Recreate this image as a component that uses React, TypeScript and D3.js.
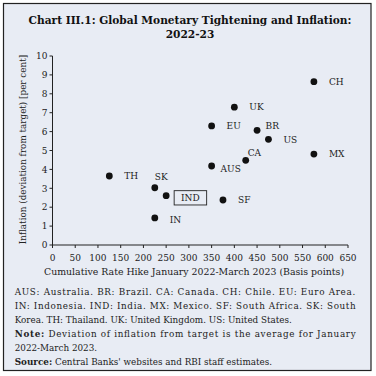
import React from "react";
import * as d3 from "d3";

const countries = ["CH", "UK", "EU", "BR", "US", "CA", "MX", "AUS", "TH", "SK", "IND", "IN", "SF"];
const rateHike = [575, 400, 350, 450, 475, 425, 575, 350, 125, 225, 250, 225, 375];
const inflationDev = [8.64, 7.29, 6.3, 6.07, 5.59, 4.48, 4.81, 4.18, 3.65, 3.03, 2.61, 1.43, 2.38];
const xTicks = [0, 50, 100, 150, 200, 250, 300, 350, 400, 450, 500, 550, 600, 650];
const yTicks = [0, 1, 2, 3, 4, 5, 6, 7, 8, 9, 10];
// label offsets (dx, dy) relative to the dot
const labelDx = [15, 15, 15, 8.5, 15, 2, 15, 9, 15, 0, 15, 15, 15];
const labelDy = [0, 0, 0, -4, 0, -8, 0, 3, 0, -11, 2, 2, 0];

const FONT = "'DejaVu Serif', serif";

export default function App() {
  const x = d3.scaleLinear().domain([0, 650]).range([52.5, 348]);
  const y = d3.scaleLinear().domain([0, 10]).range([245, 56]);
  return (
    <svg width={376} height={376} style={{ position: "absolute", left: 0, top: 0 }} fontFamily={FONT}>
      <rect x={0} y={0} width={376} height={376} fill="#ffffff" />
      <rect x={3.5} y={3.5} width={367.5} height={367} fill="#e8ecf4" stroke="#222" strokeWidth={1.2} />
      <text x={190} y={24} textAnchor="middle" fontSize={10.6} fontWeight="bold" fill="#111">
        Chart III.1: Global Monetary Tightening and Inflation:
      </text>
      <text x={190} y={37.5} textAnchor="middle" fontSize={10.6} fontWeight="bold" fill="#111">
        2022-23
      </text>
      {/* axes */}
      <line x1={x(0)} x2={x(0)} y1={y(10)} y2={y(0)} stroke="#222" strokeWidth={1} />
      <line x1={x(0)} x2={x(650)} y1={y(0)} y2={y(0)} stroke="#222" strokeWidth={1} />
      {yTicks.map((t) => (
        <g key={"y" + t}>
          <line x1={x(0) - 3} x2={x(0)} y1={y(t)} y2={y(t)} stroke="#222" />
          <text x={x(0) - 5} y={y(t) + 3.2} textAnchor="end" fontSize={9} fill="#222">{t}</text>
        </g>
      ))}
      {xTicks.map((t) => (
        <g key={"x" + t}>
          <line x1={x(t)} x2={x(t)} y1={y(0)} y2={y(0) + 3} stroke="#222" />
          <text x={x(t)} y={y(0) + 15.5} textAnchor="middle" fontSize={9} fill="#222">{t}</text>
        </g>
      ))}
      <text transform={`translate(26,${(y(0) + y(10)) / 2 - 1}) rotate(-90)`} textAnchor="middle" fontSize={8.8} fill="#222">
        Inflation (deviation from target) [per cent]
      </text>
      <text x={194} y={275} textAnchor="middle" fontSize={9.4} fill="#222">
        Cumulative Rate Hike January 2022-March 2023 (Basis points)
      </text>
      {/* points */}
      {countries.map((c, i) => (
        <g key={c}>
          <circle cx={x(rateHike[i])} cy={y(inflationDev[i])} r={3.4} fill="#111" />
          {c === "IND" ? (
            <g>
              <rect x={x(rateHike[i]) + 8} y={y(inflationDev[i]) - 5} width={32.5} height={14.3} fill="none" stroke="#222" strokeWidth={0.9} />
              <text x={x(rateHike[i]) + 24.2} y={y(inflationDev[i]) + 5.4} textAnchor="middle" fontSize={9} fill="#222">{c}</text>
            </g>
          ) : (
            <text x={x(rateHike[i]) + labelDx[i]} y={y(inflationDev[i]) + labelDy[i] + 3.2} fontSize={9} fill="#222">{c}</text>
          )}
        </g>
      ))}
      {/* footnotes */}
      <text x={14.7} y={295.2} fontSize={8.8} fill="#222" textLength={340.5} lengthAdjust="spacing">
        AUS: Australia. BR: Brazil. CA: Canada. CH: Chile. EU: Euro Area.
      </text>
      <text x={14.7} y={309.2} fontSize={8.8} fill="#222" textLength={341} lengthAdjust="spacing">
        IN: Indonesia.  IND: India. MX: Mexico. SF: South Africa. SK: South
      </text>
      <text x={14.7} y={323.2} fontSize={8.8} fill="#222">
        Korea. TH: Thailand. UK: United Kingdom. US: United States.
      </text>
      <text x={14.7} y={337.2} fontSize={8.8} fill="#222" textLength={341} lengthAdjust="spacing">
        <tspan fontWeight="bold">Note:</tspan> Deviation of inflation from target is the average for January
      </text>
      <text x={14.7} y={351.2} fontSize={8.8} fill="#222">
        2022-March 2023.
      </text>
      <text x={14.7} y={365.2} fontSize={8.8} fill="#222">
        <tspan fontWeight="bold">Source:</tspan> Central Banks' websites and RBI staff estimates.
      </text>
    </svg>
  );
}
